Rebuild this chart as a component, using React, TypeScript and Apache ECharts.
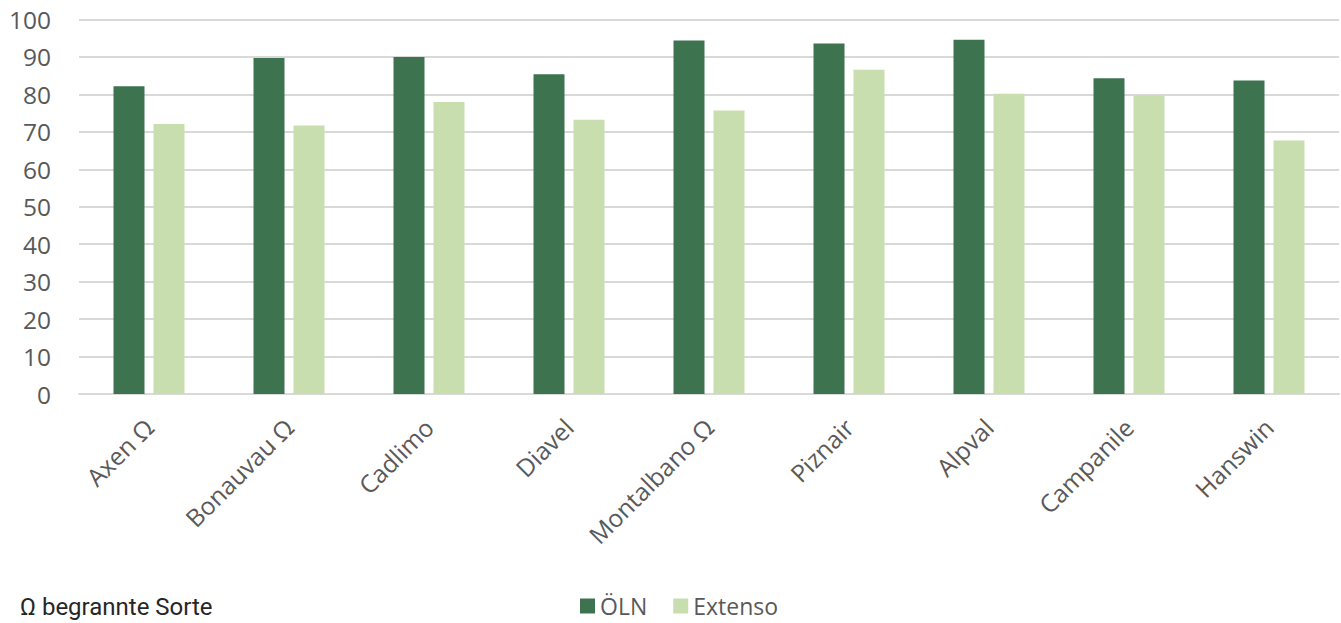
import React, { useEffect, useRef } from "react";
import * as echarts from "echarts";

const categories = ["Axen Ω", "Bonauvau Ω", "Cadlimo", "Diavel", "Montalbano Ω", "Piznair", "Alpval", "Campanile", "Hanswin"];
const olnValues = [82.2, 89.7, 90.0, 85.4, 94.4, 93.6, 94.6, 84.3, 83.7];
const extensoValues = [72.1, 71.7, 78.0, 73.2, 75.7, 86.6, 80.2, 79.7, 67.7];
const seriesNames = ["ÖLN", "Extenso"];
const footnote = "Ω begrannte Sorte";

export default function App() {
  const ref = useRef<HTMLDivElement>(null);
  useEffect(() => {
    document.body.style.margin = "0";
    const chart = echarts.init(ref.current!, null, { renderer: "svg" });
    chart.setOption({
      animation: false,
      backgroundColor: "#ffffff",
      grid: { left: 79, right: 2, top: 19.5, bottom: 229, containLabel: false },
      legend: {
        left: 580,
        top: 594,
        padding: 0,
        itemWidth: 15,
        itemHeight: 15,
        itemGap: 26,
        icon: "rect",
        textStyle: { fontFamily: "Open Sans", fontSize: 23, lineHeight: 24, color: "#595959" },
        data: seriesNames,
      },
      xAxis: {
        type: "category",
        data: categories,
        axisLine: { show: true, lineStyle: { color: "#D9D9D9", width: 2 } },
        axisTick: { show: false },
        axisLabel: {
          rotate: 45,
          interval: 0,
          margin: 29,
          fontFamily: "Open Sans",
          fontSize: 24.5,
          color: "#595959",
        },
      },
      yAxis: {
        type: "value",
        min: 0,
        max: 100,
        interval: 10,
        axisLine: { show: false },
        axisTick: { show: false },
        splitLine: { lineStyle: { color: "#D9D9D9", width: 2 } },
        axisLabel: { margin: 28, fontFamily: "Open Sans", fontSize: 24.5, color: "#595959" },
      },
      series: [
        {
          name: seriesNames[0],
          type: "bar",
          data: olnValues,
          barWidth: 31,
          barGap: "29%",
          itemStyle: { color: "#3E7350" },
        },
        {
          name: seriesNames[1],
          type: "bar",
          data: extensoValues,
          barWidth: 31,
          barGap: "29%",
          itemStyle: { color: "#C9DEAF" },
        },
      ],
      graphic: [
        {
          type: "text",
          left: 20,
          top: 595,
          style: {
            text: footnote,
            fontFamily: "Roboto",
            fontSize: 24,
            fill: "#262626",
          },
        },
      ],
    });
    return () => chart.dispose();
  }, []);
  return <div ref={ref} style={{ width: 1341, height: 623 }} />;
}
